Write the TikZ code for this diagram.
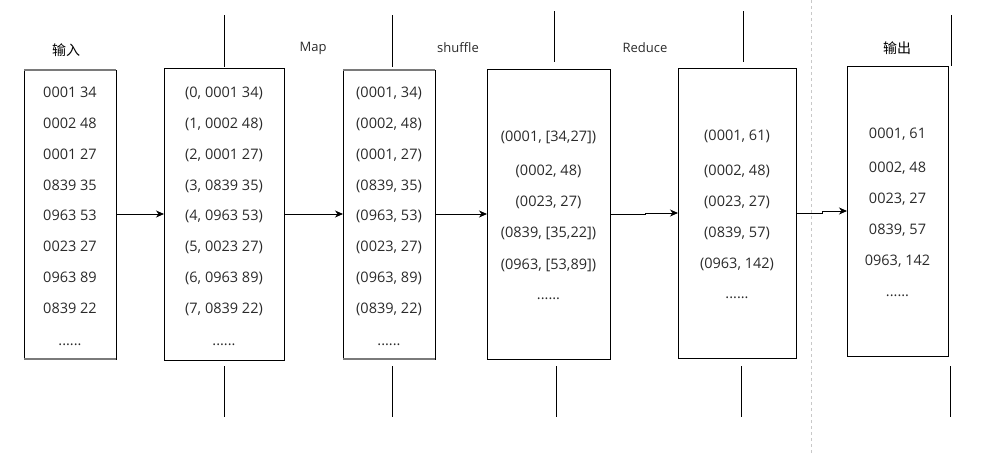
\documentclass[tikz,border=0pt]{standalone}
\usepackage{fontspec}
\setmainfont{Open Sans}
\newfontfamily\cjk{Noto Sans CJK SC}
\usetikzlibrary{arrows.meta}
\definecolor{txt}{HTML}{2A2A2A}
\definecolor{sep}{HTML}{C8C8C8}
\definecolor{edgegray}{HTML}{7A7A7A}
\begin{document}
\begin{tikzpicture}[x=1pt,y=-1pt,
  box/.style={draw=black, line width=0.9pt, inner sep=0pt, outer sep=0pt},
  row/.style={anchor=base, inner sep=0pt, text=txt, font=\fontsize{14.5}{16}\selectfont},
  lbl/.style={inner sep=0pt, text=txt, font=\fontsize{13}{15}\selectfont},
  cjklbl/.style={inner sep=0pt, text=black, font=\cjk\fontsize{14}{16}\selectfont},
  tick/.style={draw=black, line width=0.9pt},
  flow/.style={draw=black, line width=0.9pt, -{Stealth[length=8pt,width=7pt,inset=2.5pt]}}
]
\useasboundingbox (0,0) rectangle (983,453);

% separator
\draw[sep, line width=0.8pt, dash pattern=on 3pt off 3pt] (811,0) -- (811,453);

% boxes
\node[box, minimum width=92pt, minimum height=289pt] (b1) at (70,214.5) {};
\node[box, minimum width=120pt, minimum height=292pt] (b2) at (224,214) {};
\node[box, minimum width=92pt, minimum height=289pt] (b3) at (389,214.5) {};
\node[box, minimum width=123pt, minimum height=290pt] (b4) at (548.5,214) {};
\node[box, minimum width=118pt, minimum height=290pt] (b5) at (737,213) {};
\node[box, minimum width=101pt, minimum height=290pt] (b6) at (897.5,211) {};

% gray top/bottom edges of box 1 and 3
\draw[edgegray, line width=1.5pt] (b1.north west) -- (b1.north east);
\draw[edgegray, line width=1.5pt] (b1.south west) -- (b1.south east);
\draw[edgegray, line width=1.5pt] (b3.north west) -- (b3.north east);
\draw[edgegray, line width=1.5pt] (b3.south west) -- (b3.south east);

% labels
\node[cjklbl] (lin) at (66,50) {输入};
\node[lbl] (lmap) at (313,48) {Map};
\node[lbl] (lshuf) at (458,48) {shuffle};
\node[lbl] (lred) at (645,48) {Reduce};
\node[cjklbl] (lout) at (897,48) {输出};

% box 1 rows
\node[row] (a1) at (70,97) {0001 34};
\node[row] (a2) at (70,128) {0002 48};
\node[row] (a3) at (70,159) {0001 27};
\node[row] (a4) at (70,190) {0839 35};
\node[row] (a5) at (70,220) {0963 53};
\node[row] (a6) at (70,251) {0023 27};
\node[row] (a7) at (70,282) {0963 89};
\node[row] (a8) at (70,313) {0839 22};
\node[row] (a9) at (70,345) {......};

% box 2 rows
\node[row] (m1) at (224,97) {(0, 0001 34)};
\node[row] (m2) at (224,128) {(1, 0002 48)};
\node[row] (m3) at (224,159) {(2, 0001 27)};
\node[row] (m4) at (224,190) {(3, 0839 35)};
\node[row] (m5) at (224,220) {(4, 0963 53)};
\node[row] (m6) at (224,251) {(5, 0023 27)};
\node[row] (m7) at (224,282) {(6, 0963 89)};
\node[row] (m8) at (224,313) {(7, 0839 22)};
\node[row] (m9) at (224,345) {......};

% box 3 rows
\node[row] (s1) at (389,97) {(0001, 34)};
\node[row] (s2) at (389,128) {(0002, 48)};
\node[row] (s3) at (389,159) {(0001, 27)};
\node[row] (s4) at (389,190) {(0839, 35)};
\node[row] (s5) at (389,220) {(0963, 53)};
\node[row] (s6) at (389,251) {(0023, 27)};
\node[row] (s7) at (389,282) {(0963, 89)};
\node[row] (s8) at (389,313) {(0839, 22)};
\node[row] (s9) at (389,345) {......};

% box 4 rows
\node[row] (g1) at (548.5,141) {(0001, [34,27])};
\node[row] (g2) at (548.5,175) {(0002, 48)};
\node[row] (g3) at (548.5,206) {(0023, 27)};
\node[row] (g4) at (548.5,237) {(0839, [35,22])};
\node[row] (g5) at (548.5,269) {(0963, [53,89])};
\node[row] (g6) at (548.5,299) {......};

% box 5 rows
\node[row] (r1) at (737,140) {(0001, 61)};
\node[row] (r2) at (737,175) {(0002, 48)};
\node[row] (r3) at (737,206) {(0023, 27)};
\node[row] (r4) at (737,237) {(0839, 57)};
\node[row] (r5) at (737,268) {(0963, 142)};
\node[row] (r6) at (737,298) {......};

% box 6 rows
\node[row] (o1) at (897.5,138) {0001, 61};
\node[row] (o2) at (897.5,172) {0002, 48};
\node[row] (o3) at (897.5,203) {0023, 27};
\node[row] (o4) at (897.5,234) {0839, 57};
\node[row] (o5) at (897.5,265) {0963, 142};
\node[row] (o6) at (897.5,296) {......};

% ticks (stage boundaries)
\coordinate (t1a) at (224,15);  \coordinate (t1b) at (224,67);
\coordinate (t2a) at (392,15);  \coordinate (t2b) at (392,67);
\coordinate (t3a) at (554,11);  \coordinate (t3b) at (554,62);
\coordinate (t4a) at (743,11);  \coordinate (t4b) at (743,62);
\coordinate (t5a) at (951,15);  \coordinate (t5b) at (951,66);
\coordinate (u1a) at (224,366); \coordinate (u1b) at (224,417);
\coordinate (u2a) at (392,366); \coordinate (u2b) at (392,417);
\coordinate (u3a) at (556,366); \coordinate (u3b) at (556,417);
\coordinate (u4a) at (741,366); \coordinate (u4b) at (741,417);
\coordinate (u5a) at (950,366); \coordinate (u5b) at (950,417);
\foreach \t in {t1,t2,t3,t4,t5,u1,u2,u3,u4,u5} \draw[tick] (\t a) -- (\t b);

% arrows
\draw[flow] (b1.east |- 0,214) -- (b2.west |- 0,214);
\draw[flow] (b2.east |- 0,214) -- (b3.west |- 0,214);
\draw[flow] (b3.east |- 0,214) -- (b4.west |- 0,214);
\draw[flow] (b4.east |- 0,214) -- (645,214) -- (645,213) -- (b5.west |- 0,213);
\draw[flow] (b5.east |- 0,213) -- (822,213) -- (822,211) -- (b6.west |- 0,211);
\end{tikzpicture}
\end{document}
